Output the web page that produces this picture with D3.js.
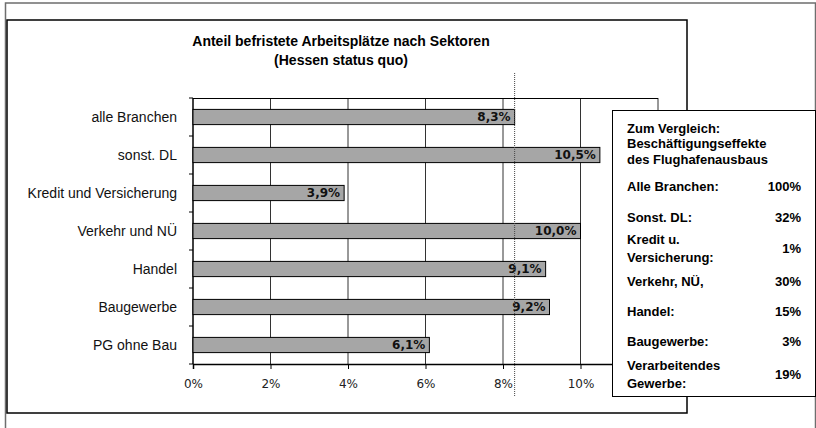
<!DOCTYPE html>
<html>
<head>
<meta charset="utf-8">
<script src="https://cdn.jsdelivr.net/npm/d3@7"></script>
<style>
  body { margin: 0; background: #fff; }
  svg { display: block; }
</style>
</head>
<body>
<div id="chart"></div>
<script>
// sectors, top to bottom
const sectors = ["alle Branchen", "sonst. DL", "Kredit und Versicherung", "Verkehr und NÜ", "Handel", "Baugewerbe", "PG ohne Bau"];
const shares = [8.3, 10.5, 3.9, 10.0, 9.1, 9.2, 6.1];
const xTicks = [0, 2, 4, 6, 8, 10, 12];
const referenceShare = 8.3;

// comparison box on the right
const noteHeader = ["Zum Vergleich:", "Beschäftigungseffekte", "des Flughafenausbaus"];
const noteLabels = [["Alle Branchen:"], ["Sonst. DL:"], ["Kredit u.", "Versicherung:"], ["Verkehr, NÜ,"], ["Handel:"], ["Baugewerbe:"], ["Verarbeitendes", "Gewerbe:"]];
const noteValues = ["100%", "32%", "1%", "30%", "15%", "3%", "19%"];

const W = 816, H = 428;
const plot = { left: 193, top: 98, right: 658, bottom: 364 };

const svg = d3.select("#chart").append("svg")
  .attr("width", W).attr("height", H);

// outer frame and chart area frame
svg.append("rect")
  .attr("x", 5.5).attr("y", 3).attr("width", 810).attr("height", 440)
  .attr("fill", "none").attr("stroke", "#6e6e6e").attr("stroke-width", 1.5);
svg.append("rect")
  .attr("x", 7).attr("y", 20).attr("width", 680).attr("height", 393)
  .attr("fill", "#fff").attr("stroke", "#000").attr("stroke-width", 1.5);

// title
const title = svg.append("text")
  .attr("text-anchor", "middle")
  .style("font-family", "Liberation Sans, Arial, sans-serif")
  .style("font-weight", "bold").style("font-size", "14px");
title.append("tspan").attr("x", 341).attr("y", 46).text("Anteil befristete Arbeitsplätze nach Sektoren");
title.append("tspan").attr("x", 341).attr("y", 65).text("(Hessen status quo)");

const x = d3.scaleLinear().domain([0, 12]).range([plot.left, plot.right]);
const y = d3.scaleBand().domain(sectors).range([plot.top, plot.bottom])
  .paddingInner(0.6).paddingOuter(0.3);

// gridlines
svg.append("g").selectAll("line")
  .data(xTicks.slice(1))
  .join("line")
  .attr("x1", d => x(d)).attr("x2", d => x(d))
  .attr("y1", plot.top).attr("y2", plot.bottom)
  .attr("stroke", "#333").attr("stroke-width", 1);
svg.append("line")
  .attr("x1", plot.left).attr("x2", plot.right)
  .attr("y1", plot.top + 0.5).attr("y2", plot.top + 0.5)
  .attr("stroke", "#000");

// x axis (the 12% label sits under the comparison box)
const xAxis = svg.append("g")
  .attr("transform", `translate(0,${plot.bottom})`)
  .call(d3.axisBottom(x).tickValues(xTicks).tickSize(5).tickPadding(10)
    .tickFormat(d => d < 12 ? d + "%" : ""));
xAxis.select(".domain").attr("stroke", "#000").attr("stroke-width", 1.5);
xAxis.selectAll(".tick line").attr("stroke", "#000");
xAxis.selectAll(".tick text")
  .style("font-family", "DejaVu Sans, sans-serif").style("font-size", "12px")
  .attr("fill", "#222");

// y axis: ticks sit between the categories
const yAxis = svg.append("g").attr("transform", `translate(${plot.left},0)`);
yAxis.append("line")
  .attr("x1", 0).attr("x2", 0).attr("y1", plot.top).attr("y2", plot.bottom)
  .attr("stroke", "#000").attr("stroke-width", 1.5);
const bounds = sectors.map(s => y(s) - y.step() * y.paddingInner() / 2)
  .concat([plot.bottom]);
yAxis.selectAll("line.tk")
  .data(bounds)
  .join("line")
  .attr("class", "tk")
  .attr("x1", -4).attr("x2", 0)
  .attr("y1", d => d).attr("y2", d => d)
  .attr("stroke", "#000");
yAxis.selectAll("text")
  .data(sectors)
  .join("text")
  .attr("x", -16)
  .attr("y", d => y(d) + y.bandwidth() / 2)
  .attr("dy", "0.35em")
  .attr("text-anchor", "end")
  .style("font-family", "Liberation Sans, Arial, sans-serif")
  .style("font-size", "14px")
  .attr("fill", "#111")
  .text(d => d);

// bars
const data = sectors.map((s, i) => ({ sector: s, value: shares[i] }));
svg.append("g").selectAll("rect")
  .data(data)
  .join("rect")
  .attr("x", x(0))
  .attr("y", d => y(d.sector))
  .attr("width", d => x(d.value) - x(0))
  .attr("height", y.bandwidth())
  .attr("fill", "#a6a6a6")
  .attr("stroke", "#000").attr("stroke-width", 1);

svg.append("g").selectAll("text")
  .data(data)
  .join("text")
  .attr("x", d => x(d.value) - 4)
  .attr("y", d => y(d.sector) + y.bandwidth() / 2)
  .attr("dy", "0.37em")
  .attr("text-anchor", "end")
  .style("font-family", "DejaVu Sans, sans-serif")
  .style("font-weight", "bold").style("font-size", "12px")
  .attr("fill", "#111")
  .text(d => d3.format(".1f")(d.value).replace(".", ",") + "%");

// dotted reference line at the overall value
svg.append("line")
  .attr("x1", x(referenceShare)).attr("x2", x(referenceShare))
  .attr("y1", 73).attr("y2", 397)
  .attr("stroke", "#444").attr("stroke-width", 1)
  .attr("stroke-dasharray", "1,1");

// comparison box
const box = svg.append("g");
box.append("rect")
  .attr("x", 612.5).attr("y", 110.5).attr("width", 203).attr("height", 286)
  .attr("fill", "#fff").attr("stroke", "#000").attr("stroke-width", 1);

const noteFont = sel => sel
  .style("font-family", "Liberation Sans, Arial, sans-serif")
  .style("font-weight", "bold").style("font-size", "13px");

box.selectAll("text.head")
  .data(noteHeader)
  .join("text")
  .attr("class", "head")
  .attr("x", 627).attr("y", (d, i) => 133 + i * 15.3)
  .call(noteFont)
  .text(d => d);

const rowY = [191, 222, 253, 286, 316, 346, 379];
noteLabels.forEach((lines, i) => {
  const n = lines.length;
  lines.forEach((t, j) => {
    box.append("text")
      .attr("x", 627)
      .attr("y", rowY[i] + (j - (n - 1) / 2) * 17.5)
      .call(noteFont)
      .text(t);
  });
  box.append("text")
    .attr("x", 801).attr("y", rowY[i])
    .attr("text-anchor", "end")
    .call(noteFont)
    .text(noteValues[i]);
});
</script>
</body>
</html>
